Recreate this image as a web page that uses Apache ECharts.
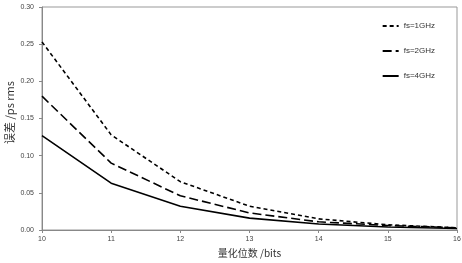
<!DOCTYPE html>
<html>
<head>
<meta charset="utf-8">
<script src="https://cdn.jsdelivr.net/npm/echarts@6/dist/echarts.min.js"></script>
<style>
  html, body { margin: 0; padding: 0; background: #fff; }
  #chart { width: 462px; height: 263px; }
</style>
</head>
<body>
<div id="chart"></div>
<script>
const bits = [10, 11, 12, 13, 14, 15, 16]
const err1GHz = [0.253, 0.128, 0.065, 0.032, 0.015, 0.007, 0.003]
const err2GHz = [0.180, 0.090, 0.046, 0.023, 0.011, 0.006, 0.003]
const err4GHz = [0.127, 0.063, 0.032, 0.016, 0.008, 0.004, 0.002]

const chart = echarts.init(document.getElementById('chart'))

const mkSeries = (name, values, type) => ({
  name,
  type: 'line',
  data: bits.map((b, i) => [b, values[i]]),
  symbol: 'none',
  lineStyle: { color: '#000', width: 1.6, type },
  itemStyle: { color: '#000' }
})

const option = {
  animation: false,
  grid: {
    left: 42, right: 5, top: 7, bottom: 33,
    outerBoundsMode: 'none',
    show: true, borderColor: '#999', borderWidth: 1
  },
  legend: {
    orient: 'vertical',
    right: 22,
    top: 17,
    itemGap: 17,
    itemWidth: 16,
    itemHeight: 8,
    itemStyle: { opacity: 0 },
    textStyle: { fontSize: 8, color: '#333', fontFamily: 'Liberation Sans' },
    data: ['fs=1GHz', 'fs=2GHz', 'fs=4GHz']
  },
  xAxis: {
    type: 'value',
    min: 10, max: 16, interval: 1,
    name: '量化位数 /bits',
    nameLocation: 'middle',
    nameGap: 18,
    nameTextStyle: { fontSize: 10, color: '#333', fontFamily: 'Noto Sans CJK SC' },
    axisLine: { lineStyle: { color: '#888' } },
    axisTick: { show: true, length: 3, lineStyle: { color: '#888' } },
    axisLabel: { fontSize: 7, color: '#444', margin: 6 },
    splitLine: { show: false }
  },
  yAxis: {
    type: 'value',
    min: 0, max: 0.3, interval: 0.05,
    name: '误差 /ps rms',
    nameLocation: 'middle',
    nameGap: 27,
    nameMoveOverlap: false,
    nameTextStyle: { fontSize: 11, color: '#333', fontFamily: 'Noto Sans CJK SC', padding: [0, 0, 0, 12] },
    axisLine: { show: true, lineStyle: { color: '#888' } },
    axisTick: { show: true, length: 3, lineStyle: { color: '#888' } },
    axisLabel: { fontSize: 7, color: '#444', margin: 8, formatter: v => v.toFixed(2) },
    splitLine: { show: false }
  },
  series: [
    mkSeries('fs=1GHz', err1GHz, [4, 3]),
    mkSeries('fs=2GHz', err2GHz, [9, 4]),
    mkSeries('fs=4GHz', err4GHz, 'solid')
  ]
}

chart.setOption(option)
</script>
</body>
</html>
